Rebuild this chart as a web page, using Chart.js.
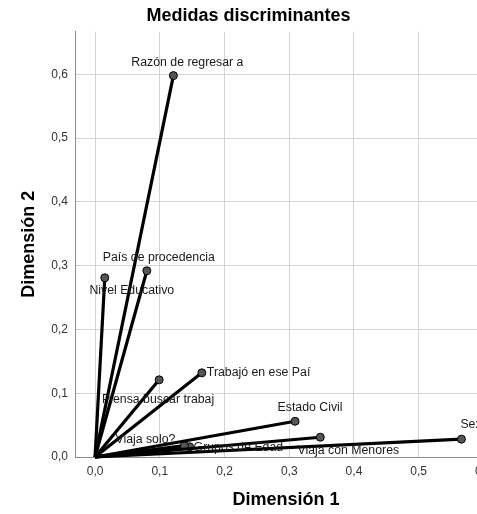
<!DOCTYPE html>
<html>
<head>
<meta charset="utf-8">
<script src="https://cdn.jsdelivr.net/npm/chart.js@4"></script>
<style>
  body { margin: 0; overflow: hidden; background: #fff; }
  #wrap { width: 510px; height: 514px; }
</style>
</head>
<body>
<div id="wrap"><canvas id="chart" width="510" height="514"></canvas></div>
<script>
// Medidas discriminantes (dimensión 1, dimensión 2)
const variables = ['Razón de regresar a', 'País de procedencia', 'Nivel Educativo', 'Piensa buscar trabaj',
    'Trabajó en ese Paí', 'Estado Civil', 'Viaja con Menores', 'Sexo', 'Viaja solo?', 'Grupos de Edad'];
const dim1 = [0.121, 0.080, 0.015, 0.099, 0.165, 0.309, 0.348, 0.566, 0.138, 0.146];
const dim2 = [0.598, 0.292, 0.281, 0.121, 0.132, 0.056, 0.031, 0.028, 0.018, 0.016];
const xTicks = [0, 0.1, 0.2, 0.3, 0.4, 0.5, 0.6];
const yTicks = [0, 0.1, 0.2, 0.3, 0.4, 0.5, 0.6];

// where each label sits relative to its point: [dx, dy, align]
const labelPlace = [
    [14, -13, 'center'], [12, -13, 'center'], [27, 13, 'center'], [-1, 20, 'center'],
    [5, 0, 'left'], [15, -14, 'center'], [28, 13, 'center'], [13, -15, 'center'],
    [-39, -6, 'center'], [4, 1, 'left']
];

const fmt = v => v.toFixed(1).replace('.', ',');
const FONT = "'Liberation Sans', Arial, sans-serif";

const labelPlugin = {
    id: 'pointLabels',
    afterDatasetsDraw(chart) {
        const ctx = chart.ctx;
        ctx.save();
        ctx.font = '12.3px ' + FONT;
        ctx.fillStyle = '#1a1a1a';
        ctx.textBaseline = 'middle';
        chart.data.datasets.forEach((ds, i) => {
            const pt = chart.getDatasetMeta(i).data[1];
            const [dx, dy, align] = labelPlace[i];
            ctx.textAlign = align;
            ctx.fillText(variables[i], pt.x + dx, pt.y + dy);
        });
        ctx.restore();
    }
};

const datasets = variables.map((name, i) => ({
    label: name,
    data: [{x: 0, y: 0}, {x: dim1[i], y: dim2[i]}],
    showLine: true,
    borderColor: '#000',
    borderWidth: 3.2,
    pointRadius: [0, 4],
    pointBackgroundColor: '#555',
    pointBorderColor: '#000',
    pointBorderWidth: 1,
    clip: false
}));

new Chart(document.getElementById('chart'), {
    type: 'scatter',
    data: { datasets },
    options: {
        responsive: false,
        animation: false,
        layout: { padding: { left: 0, right: 13, top: 0, bottom: 0 } },
        plugins: {
            legend: { display: false },
            tooltip: { enabled: false },
            title: {
                display: true,
                text: 'Medidas discriminantes',
                color: '#000',
                font: { family: FONT, size: 18, weight: 'bold' },
                padding: { top: 5, bottom: 5 }
            }
        },
        scales: {
            x: {
                type: 'linear',
                min: -0.031,
                max: 0.621,
                afterBuildTicks: s => { s.ticks = xTicks.map(v => ({ value: v })); },
                afterFit: s => { s.height = 57; },
                grid: { color: '#d4d4d4', drawTicks: false },
                border: { color: '#8c8c8c' },
                ticks: { callback: fmt, color: '#333', font: { family: FONT, size: 12 }, padding: 7, maxRotation: 0 },
                title: {
                    display: true, text: 'Dimensión 1', color: '#000',
                    font: { family: FONT, size: 18, weight: 'bold' },
                    padding: { top: 0, bottom: 3 }
                }
            },
            y: {
                type: 'linear',
                min: 0,
                max: 0.667,
                afterBuildTicks: s => { s.ticks = yTicks.map(v => ({ value: v })); },
                afterFit: s => { s.width = 75; },
                grid: { color: '#d4d4d4', drawTicks: false },
                border: { color: '#8c8c8c' },
                ticks: { callback: fmt, color: '#333', font: { family: FONT, size: 12 }, padding: 7 },
                title: {
                    display: true, text: 'Dimensión 2', color: '#000',
                    font: { family: FONT, size: 18, weight: 'bold' },
                    padding: { top: 18, bottom: 0 }
                }
            }
        }
    },
    plugins: [labelPlugin]
});
</script>
</body>
</html>
